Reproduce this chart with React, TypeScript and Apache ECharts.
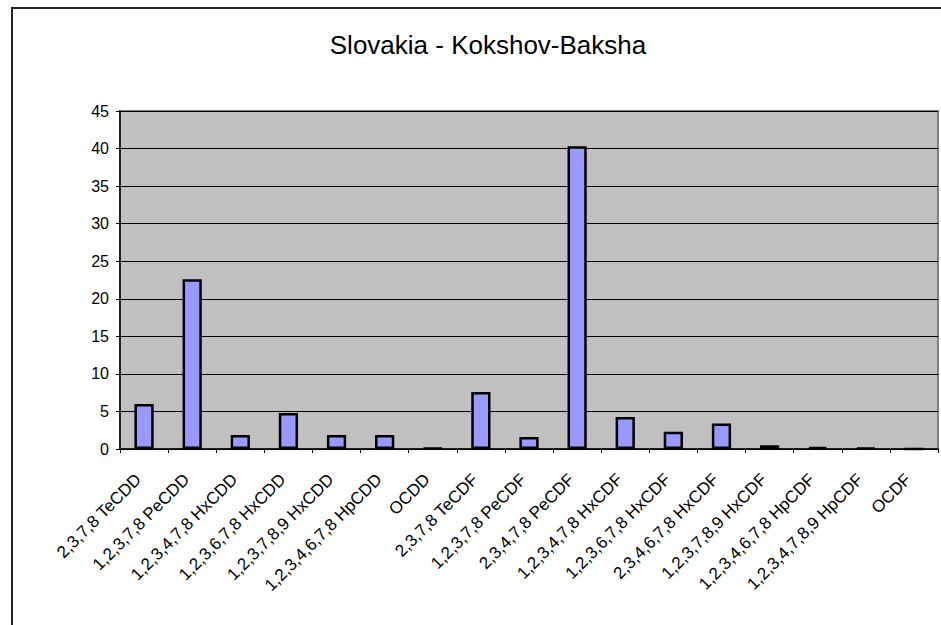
import React, { useEffect, useRef } from "react";
import * as echarts from "echarts";

const titleText = "Slovakia - Kokshov-Baksha";

const categories = [
  "2,3,7,8 TeCDD",
  "1,2,3,7,8 PeCDD",
  "1,2,3,4,7,8 HxCDD",
  "1,2,3,6,7,8 HxCDD",
  "1,2,3,7,8,9 HxCDD",
  "1,2,3,4,6,7,8 HpCDD",
  "OCDD",
  "2,3,7,8 TeCDF",
  "1,2,3,7,8 PeCDF",
  "2,3,4,7,8 PeCDF",
  "1,2,3,4,7,8 HxCDF",
  "1,2,3,6,7,8 HxCDF",
  "2,3,4,6,7,8 HxCDF",
  "1,2,3,7,8,9 HxCDF",
  "1,2,3,4,6,7,8 HpCDF",
  "1,2,3,4,7,8,9 HpCDF",
  "OCDF",
];

const values = [6.0, 22.6, 1.85, 4.8, 1.85, 1.85, 0.1, 7.6, 1.6, 40.3, 4.25, 2.3, 3.4, 0.5, 0.25, 0.15, 0];

const yMin = 0;
const yMax = 45;
const yInterval = 5;

const FONT = "'Liberation Sans', Arial, sans-serif";

export default function App() {
  const ref = useRef<HTMLDivElement>(null);

  useEffect(() => {
    if (!ref.current) return;
    const chart = echarts.init(ref.current, null, { renderer: "svg" });
    chart.setOption({
      animation: false,
      backgroundColor: "#ffffff",
      textStyle: { fontFamily: FONT },
      title: {
        text: titleText,
        left: 483,
        top: 27,
        textAlign: "center",
        textStyle: {
          fontFamily: FONT,
          fontSize: 26,
          fontWeight: "normal",
          color: "#000000",
        },
      },
      graphic: [
        {
          type: "rect",
          shape: { x: 12, y: 8, width: 1200, height: 1000 },
          style: { fill: "none", stroke: "#222222", lineWidth: 2 },
          silent: true,
          z: 100,
        },
      ],
      grid: {
        left: 120,
        top: 111,
        right: 3,
        bottom: 176,
        show: true,
        backgroundColor: "#c0c0c0",
        borderColor: "#808080",
        borderWidth: 2,
      },
      xAxis: {
        type: "category",
        data: categories,
        boundaryGap: true,
        axisLine: { show: true, lineStyle: { color: "#000000", width: 1.5 } },
        axisTick: { show: true, alignWithLabel: false, length: 4, inside: false, lineStyle: { color: "#000000" } },
        axisLabel: {
          interval: 0,
          rotate: 45,
          margin: 22,
          padding: [0, 8, 0, 0],
          fontSize: 17,
          color: "#000000",
          fontFamily: FONT,
        },
        splitLine: { show: false },
      },
      yAxis: {
        type: "value",
        min: yMin,
        max: yMax,
        interval: yInterval,
        axisLine: { show: true, lineStyle: { color: "#000000", width: 1.5 } },
        axisTick: { show: true, length: 4, lineStyle: { color: "#000000" } },
        axisLabel: {
          margin: 11,
          fontSize: 16,
          color: "#000000",
          fontFamily: FONT,
        },
        splitLine: { show: true, lineStyle: { color: "#000000", width: 1 } },
      },
      series: [
        {
          type: "bar",
          data: values,
          barWidth: "40%",
          itemStyle: {
            color: "#9999ff",
            borderColor: "#000000",
            borderWidth: 2.5,
          },
        },
      ],
    });
    return () => chart.dispose();
  }, []);

  return (
    <div
      ref={ref}
      style={{ position: "absolute", left: 0, top: 0, width: 941, height: 625 }}
    />
  );
}
